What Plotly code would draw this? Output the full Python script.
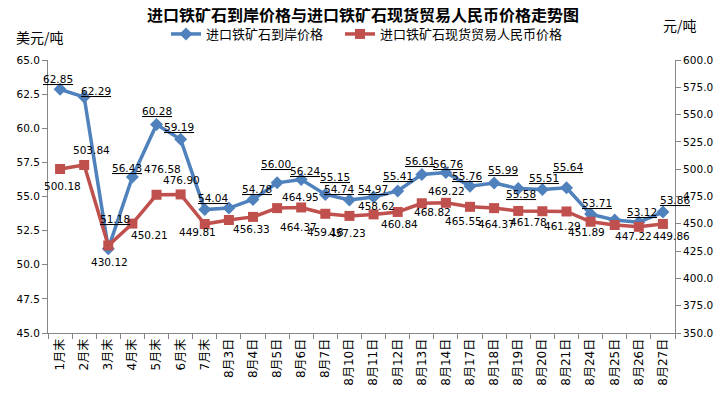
import plotly.graph_objects as go

categories = ["1月末", "2月末", "3月末", "4月末", "5月末", "6月末", "7月末",
              "8月3日", "8月4日", "8月5日", "8月6日", "8月7日", "8月10日", "8月11日",
              "8月12日", "8月13日", "8月14日", "8月17日", "8月18日", "8月19日",
              "8月20日", "8月21日", "8月24日", "8月25日", "8月26日", "8月27日"]

usd_price = [62.85, 62.29, 51.18, 56.43, 60.28, 59.19, 54.04,
             54.15, 54.78, 56.00, 56.24, 55.15, 54.74, 54.97,
             55.41, 56.61, 56.76, 55.76, 55.99, 55.58,
             55.51, 55.64, 53.71, 53.28, 53.12, 53.86]
usd_labels = ["62.85", "62.29", "51.18", "56.43", "60.28", "59.19", "54.04",
              "", "54.78", "56.00", "56.24", "55.15", "54.74", "54.97",
              "55.41", "56.61", "56.76", "55.76", "55.99", "55.58",
              "55.51", "55.64", "53.71", "", "53.12", "53.86"]

cny_price = [500.18, 503.84, 430.12, 450.21, 476.58, 476.90, 449.81,
             453.50, 456.33, 464.37, 464.95, 459.18, 457.23, 458.62,
             460.84, 468.82, 469.22, 465.55, 464.37, 461.78,
             461.50, 461.29, 451.89, 448.90, 447.22, 449.86]
cny_labels = ["500.18", "503.84", "430.12", "450.21", "476.58", "476.90", "449.81",
              "", "456.33", "464.37", "464.95", "459.18", "457.23", "458.62",
              "460.84", "468.82", "469.22", "465.55", "464.37", "461.78",
              "", "461.29", "451.89", "", "447.22", "449.86"]

series_names = ["进口铁矿石到岸价格", "进口铁矿石现货贸易人民币价格"]
left_ticks = [45.0, 47.5, 50.0, 52.5, 55.0, 57.5, 60.0, 62.5, 65.0]
right_ticks = [350, 375, 400, 425, 450, 475, 500, 525, 550, 575, 600]

# label offsets in pixels (dx right, dy up) -- styling only
usd_off = [(-2, 10), (12, 6), (7, 30), (-5, 9), (0, 13), (-2, 12), (8, 12),
           (0, 10), (4, 11), (-1, 19), (4, 9), (10, 17), (-10, 11), (-1, 8),
           (0, 15), (-2, 14), (2, 8), (-3, 10), (9, 13), (3, -5),
           (2, 12), (2, 21), (6, 11), (0, 10), (3, 10), (12, 12)]
cny_off = [(2, -17), (7, 15), (1, -16), (17, -11), (6, 26), (1, 14), (-7, -8),
           (0, -12), (-1, -12), (21, -19), (-1, 10), (0, -18), (-2, -17), (3, 8),
           (2, -12), (11, -9), (1, 12), (-7, -14), (2, -16), (10, -11),
           (0, -12), (-4, -15), (-4, -10), (0, -10), (-5, -9), (9, -12)]

FONT = "DejaVu Sans, Noto Sans CJK SC, sans-serif"
CJK = "Noto Sans CJK SC, sans-serif"
BLUE = "#4F81BD"
RED = "#C0504D"
AXIS = "#868686"

# page body has an 8px margin; figure is sized to fill the rest of the window
W, H, OFF = 719, 387, 8

fig = go.Figure()
fig.add_trace(go.Scatter(
    x=categories, y=usd_price, name=series_names[0], mode="lines+markers",
    line=dict(color=BLUE, width=3.5),
    marker=dict(symbol="diamond", size=10, color=BLUE),
    cliponaxis=False, yaxis="y", legend="legend"))
fig.add_trace(go.Scatter(
    x=categories, y=cny_price, name=series_names[1], mode="lines+markers",
    line=dict(color=RED, width=3.5),
    marker=dict(symbol="square", size=10, color=RED),
    cliponaxis=False, yaxis="y2", legend="legend2"))

annotations = []
for cat, val, lab, (dx, dy) in zip(categories, usd_price, usd_labels, usd_off):
    if lab:
        annotations.append(dict(x=cat, y=val, xref="x", yref="y", text=lab,
                                showarrow=False, xshift=dx, yshift=dy,
                                xanchor="center", yanchor="middle",
                                font=dict(family=FONT, size=10.5, color="#000000",
                                          lineposition="under")))
for cat, val, lab, (dx, dy) in zip(categories, cny_price, cny_labels, cny_off):
    if lab:
        annotations.append(dict(x=cat, y=val, xref="x", yref="y2", text=lab,
                                showarrow=False, xshift=dx, yshift=dy,
                                xanchor="center", yanchor="middle",
                                font=dict(family=FONT, size=10.5, color="#000000")))
annotations += [
    dict(text="美元/吨", xref="paper", yref="paper", x=-0.013, y=1.084,
         showarrow=False, xanchor="center", yanchor="middle",
         font=dict(family=CJK, size=14)),
    dict(text="元/吨", xref="paper", yref="paper", x=1.0080, y=1.128,
         showarrow=False, xanchor="center", yanchor="middle",
         font=dict(family=CJK, size=14)),
]

legend_common = dict(orientation="h", xref="container", yref="container",
                     y=1 - (34 - OFF) / H, xanchor="left", yanchor="middle",
                     font=dict(family=CJK, size=13),
                     bgcolor="rgba(0,0,0,0)", itemwidth=30)

fig.update_layout(
    width=W, height=H,
    margin=dict(l=48 - OFF, r=52, t=60 - OFF, b=62, autoexpand=False),
    paper_bgcolor="white", plot_bgcolor="white",
    font=dict(family=FONT, size=11, color="#000000"),
    title=dict(text="<b>进口铁矿石到岸价格与进口铁矿石现货贸易人民币价格走势图</b>",
               x=(363 - OFF) / W, xref="container", xanchor="center",
               y=1.0, yref="container", yanchor="top", pad=dict(t=2, b=0),
               font=dict(family=CJK, size=16, color="#000000")),
    showlegend=True,
    legend=dict(x=(172 - OFF - 6) / W, **legend_common),
    legend2=dict(x=(346 - OFF - 6) / W, **legend_common),
    xaxis=dict(type="category", range=[-0.5, len(categories) - 0.5],
               tickangle=-90, showline=True, linecolor=AXIS, linewidth=1,
               ticks="outside", tickcolor=AXIS, ticklen=5, tickson="boundaries",
               showgrid=False, zeroline=False, automargin=False,
               tickfont=dict(family=FONT, size=12)),
    yaxis=dict(range=[45, 65], tickvals=left_ticks, tickformat=".1f",
               showline=True, linecolor=AXIS, linewidth=1, ticks="outside",
               tickcolor=AXIS, ticklen=5, showgrid=False, zeroline=False,
               automargin=False, tickfont=dict(family=FONT, size=10.5)),
    yaxis2=dict(range=[350, 600], tickvals=right_ticks, tickformat=".1f",
                overlaying="y", side="right",
                showline=True, linecolor=AXIS, linewidth=1, ticks="outside",
                tickcolor=AXIS, ticklen=5, showgrid=False, zeroline=False,
                automargin=False, tickfont=dict(family=FONT, size=10.5)),
    annotations=annotations,
)

fig.write_html("out.html")
